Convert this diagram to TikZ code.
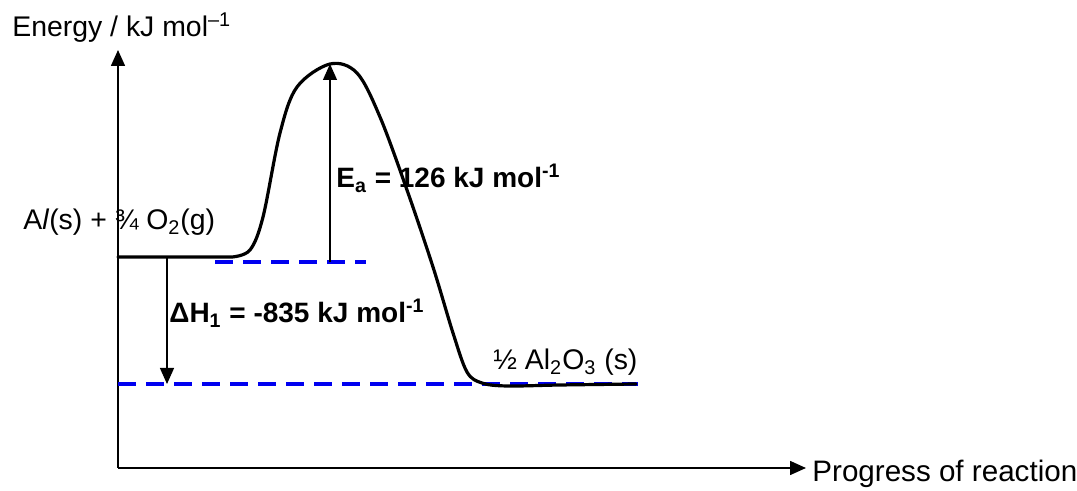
\documentclass[tikz,border=0pt]{standalone}
\usepackage{fontspec}
\setmainfont{Liberation Sans}
\usepackage{xcolor}
\usetikzlibrary{arrows.meta,positioning,calc}
\definecolor{LevelBlue}{HTML}{0000F0}

\tikzset{
  axisline/.style={line width=0.8pt, -{Triangle[length=8pt,width=7pt]}},
  gaparrow/.style={line width=0.6pt, -{Triangle[length=8pt,width=7pt]}},
  levelline/.style={draw=LevelBlue, line width=2pt, dash pattern=on 9pt off 5pt},
  pathline/.style={line width=1.6pt, line join=round, line cap=round},
  plainlabel/.style={inner sep=0pt, font=\fontsize{14.2}{17}\selectfont},
  boldlabel/.style={inner sep=0pt, font=\fontsize{14}{16}\selectfont\bfseries},
}

\begin{document}
\begin{tikzpicture}[x=0.5pt, y=-0.5pt]
  \useasboundingbox (0,0) rectangle (1077,491);

  % axes
  \coordinate (origin) at (118,468);
  \coordinate (ytop) at (118,50);
  \coordinate (xend) at (806,468);
  \draw[axisline] (origin) -- (ytop);
  \draw[axisline] (origin) -- (xend);
  \node[plainlabel, anchor=base west] (ylab) at (12,37) {Energy / kJ mol\textsuperscript{–1}};
  \node[plainlabel, font=\fontsize{14.8}{17}\selectfont, anchor=base west] (xlab) at (812,482) {Progress of reaction};

  % energy levels
  \coordinate (react) at (118,257);
  \coordinate (prodleft) at (118,384);
  \coordinate (prodright) at (638,384);
  \coordinate (tsleft) at (215,262);
  \coordinate (tsright) at (366,262);
  \draw[levelline] (tsleft) -- (tsright);
  \draw[levelline] (prodleft) -- (prodright);

  % reaction profile
  \coordinate (peak) at (330,64);
  \draw[pathline] (react) -- (232,257)
    plot[smooth, tension=0.55] coordinates {(232,257) (250,250) (263,217) (280,133)
      (297,87) (peak) (357,73) (380,117) (407,190) (433,267) (453,333)
      (467,372) (482,383) (507,386) (560,385) (636,384)};

  % gaps
  \coordinate (eabase) at (330,262);
  \draw[gaparrow] (eabase) -- (peak);
  \coordinate (dhtop) at (167,257);
  \coordinate (dhbot) at (167,384);
  \draw[gaparrow] (dhtop) -- (dhbot);

  % labels
  \node[plainlabel, anchor=base west] (reactlab) at (23,230)
    {A\textit{l}(s) + ¾ O\textsubscript{2}(g)};
  \node[plainlabel, anchor=base west] (prodlab) at (493,370)
    {½ Al\textsubscript{2}O\textsubscript{3} (s)};
  \node[boldlabel, anchor=west] (ealab) at (336,178)
    {E\textsubscript{a} = 126 kJ mol\textsuperscript{-1}};
  \node[boldlabel, anchor=west] (dhlab) at (169,313)
    {ΔH\textsubscript{1} = -835 kJ mol\textsuperscript{-1}};
\end{tikzpicture}
\end{document}
